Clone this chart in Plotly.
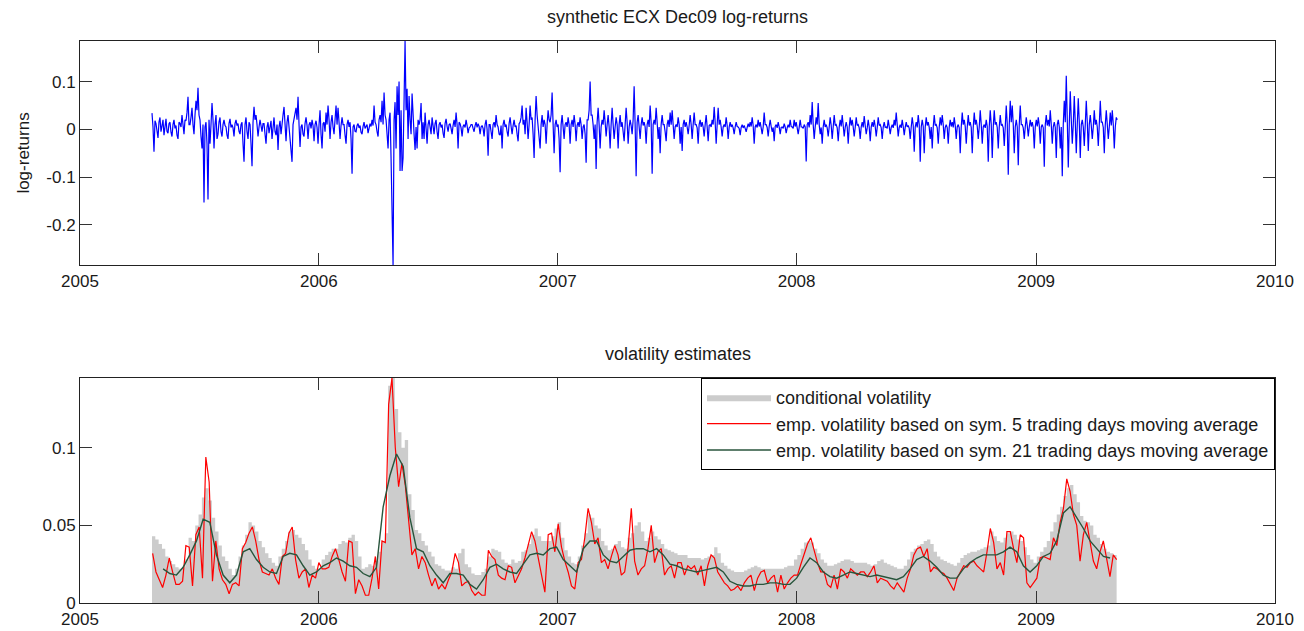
import pandas as pd
import plotly.graph_objects as go

# ---------------- data ----------------
RET_START, RET_END = "2005-04-21", "2009-05-05"
VOL_START, VOL_END = "2005-04-22", "2009-05-04"
MA21_START, MA21_END = "2005-05-08", "2009-04-24"

log_returns = [
    0.034, 0.005, -0.047, 0.018, 0.012, -0.010, -0.018, 0.015, 0.025, -0.005, 0.005, 0.020, -0.012, 0.008, 0.022, -0.004, -0.008, 0.012, 0.015, -0.006,
    -0.015, 0.010, 0.020, 0.002, 0.008, -0.012, -0.020, 0.015, 0.012, 0.005, 0.030, 0.010, -0.010, 0.020, 0.018, 0.035, 0.068, 0.010, 0.010, 0.025,
    0.045, 0.010, -0.010, 0.030, 0.060, 0.040, 0.087, 0.030, 0.020, -0.015, -0.040, 0.010, -0.153, 0.005, 0.015, -0.030, -0.147, 0.020, -0.030, 0.010,
    0.055, 0.020, -0.040, 0.010, 0.030, -0.020, -0.010, 0.015, 0.025, -0.005, -0.015, 0.010, 0.020, 0.008, 0.005, -0.012, -0.020, 0.012, 0.022, 0.004,
    0.010, 0.003, -0.015, 0.012, 0.020, 0.008, 0.012, -0.004, -0.010, 0.010, 0.015, -0.030, -0.068, 0.010, 0.025, -0.005, -0.020, 0.015, 0.010, -0.030,
    -0.077, 0.015, 0.047, 0.020, 0.030, 0.010, -0.015, 0.005, 0.020, 0.008, -0.005, 0.012, 0.012, -0.010, -0.030, 0.005, 0.015, -0.008, 0.008, 0.018,
    -0.020, 0.008, 0.025, -0.005, -0.012, 0.010, -0.043, 0.005, 0.018, -0.010, 0.020, 0.030, 0.047, 0.010, -0.025, 0.015, 0.030, 0.005, -0.015, -0.040,
    -0.068, 0.010, 0.020, 0.030, 0.045, 0.020, 0.068, 0.010, -0.037, 0.005, 0.010, -0.010, -0.015, 0.012, 0.025, 0.008, -0.020, 0.010, 0.015, 0.002,
    0.020, 0.008, -0.025, 0.010, 0.018, 0.004, -0.030, 0.010, 0.040, -0.010, -0.040, 0.012, 0.015, -0.005, 0.035, 0.010, 0.050, 0.020, -0.020, 0.015,
    0.030, 0.005, -0.010, 0.020, 0.050, 0.010, 0.045, 0.015, -0.020, 0.008, 0.025, 0.010, 0.010, -0.012, -0.030, 0.010, 0.020, 0.005, 0.015, -0.020,
    -0.093, 0.005, 0.010, -0.004, -0.005, 0.008, 0.012, 0.003, 0.008, -0.006, -0.010, 0.006, 0.015, 0.002, 0.005, 0.010, -0.008, 0.004, 0.012, 0.006,
    0.020, 0.008, 0.050, 0.015, 0.010, -0.005, -0.015, 0.020, 0.030, 0.015, 0.060, 0.010, 0.077, 0.030, 0.020, -0.010, -0.040, 0.020, 0.035, -0.060,
    -0.164, -0.284, 0.020, 0.057, -0.040, 0.090, 0.030, 0.100, -0.087, 0.040, -0.087, -0.060, 0.060, 0.185, 0.040, 0.085, -0.020, 0.070, 0.020, -0.010,
    0.075, 0.010, -0.010, -0.043, 0.005, -0.040, 0.020, 0.010, 0.020, 0.055, -0.020, 0.015, -0.020, 0.035, 0.010, -0.030, 0.010, 0.020, 0.005, -0.010,
    0.025, 0.005, -0.010, 0.012, 0.020, -0.005, -0.020, 0.010, 0.015, 0.004, 0.010, -0.008, -0.018, 0.012, 0.022, 0.006, -0.005, 0.010, 0.012, 0.002,
    -0.010, 0.008, 0.020, 0.005, 0.035, 0.010, -0.040, 0.015, 0.012, 0.003, -0.015, 0.006, 0.010, 0.004, 0.020, 0.008, -0.008, 0.003, 0.005, 0.010,
    0.010, 0.002, -0.005, 0.008, 0.015, 0.004, 0.012, 0.006, -0.010, 0.005, 0.008, 0.002, -0.015, 0.010, 0.020, 0.000, -0.055, 0.010, 0.010, -0.005,
    -0.020, 0.010, 0.015, 0.004, 0.030, 0.010, 0.005, -0.010, -0.012, 0.008, -0.040, 0.010, 0.020, 0.005, 0.010, -0.005, -0.015, 0.012, 0.025, 0.006,
    -0.010, 0.008, 0.020, 0.005, 0.008, -0.010, -0.025, 0.012, 0.015, 0.025, 0.050, 0.010, 0.020, -0.010, 0.045, 0.015, -0.020, 0.010, 0.050, 0.020,
    0.025, -0.010, -0.060, 0.020, 0.070, 0.030, 0.010, -0.015, -0.040, 0.010, 0.030, 0.005, 0.020, 0.010, -0.030, 0.010, 0.040, 0.020, 0.015, 0.030,
    0.077, 0.010, -0.050, 0.010, 0.020, 0.005, 0.010, -0.020, -0.090, 0.010, 0.030, 0.005, -0.020, 0.010, 0.015, 0.005, 0.025, 0.010, -0.030, 0.010,
    0.020, 0.005, 0.030, 0.010, -0.025, 0.008, 0.015, 0.005, 0.025, 0.010, -0.020, 0.005, 0.010, -0.010, -0.070, 0.020, 0.020, 0.040, 0.100, 0.030,
    0.030, 0.010, -0.020, 0.010, -0.083, 0.015, 0.045, 0.010, -0.040, 0.005, 0.020, 0.010, 0.040, 0.015, -0.015, 0.010, 0.030, 0.005, -0.040, 0.010,
    0.045, 0.010, -0.020, 0.005, 0.025, 0.010, -0.040, 0.010, 0.030, 0.005, 0.015, -0.005, -0.025, 0.010, 0.045, 0.015, -0.030, 0.005, 0.020, 0.008,
    -0.010, 0.020, 0.090, 0.010, -0.098, 0.015, 0.030, 0.005, -0.020, 0.010, 0.025, 0.008, 0.015, 0.005, -0.030, 0.010, 0.020, 0.005, 0.050, 0.015,
    -0.093, 0.010, 0.020, 0.010, 0.045, 0.015, -0.020, 0.005, -0.050, 0.010, 0.030, 0.010, 0.010, -0.005, -0.025, 0.010, 0.020, 0.005, 0.035, 0.010,
    0.040, 0.010, -0.020, 0.005, 0.010, 0.005, 0.025, 0.010, -0.030, 0.005, -0.045, 0.010, 0.020, 0.005, 0.015, 0.005, -0.010, 0.008, 0.030, 0.010,
    -0.020, 0.010, 0.035, 0.010, 0.010, 0.003, -0.030, 0.010, 0.020, 0.005, 0.015, 0.005, -0.015, 0.010, 0.030, 0.005, -0.025, 0.008, 0.010, 0.005,
    0.020, 0.010, 0.047, 0.015, -0.030, 0.010, 0.045, 0.010, 0.020, 0.005, -0.015, 0.005, 0.010, 0.005, 0.025, 0.008, -0.020, 0.005, 0.015, 0.005,
    0.010, 0.003, -0.010, 0.005, 0.015, 0.006, 0.005, 0.002, -0.012, 0.004, 0.010, 0.003, 0.008, 0.002, -0.005, 0.004, 0.012, 0.005, 0.015, 0.006,
    0.025, 0.008, -0.030, 0.005, 0.010, 0.004, 0.020, 0.006, 0.015, 0.003, -0.010, 0.005, 0.035, 0.010, 0.010, 0.004, -0.015, 0.006, 0.020, 0.006,
    -0.005, 0.004, -0.025, 0.006, 0.010, 0.003, 0.015, 0.005, -0.010, 0.004, 0.005, 0.002, 0.012, 0.005, -0.008, 0.003, 0.010, 0.004, 0.020, 0.006,
    0.005, 0.002, 0.020, 0.006, 0.015, 0.003, -0.010, 0.004, 0.020, 0.005, 0.005, 0.002, 0.010, 0.005, -0.067, 0.010, 0.015, 0.004, 0.030, 0.010,
    0.057, 0.010, -0.020, 0.005, 0.025, 0.010, 0.055, 0.010, -0.010, 0.004, -0.030, 0.005, 0.020, 0.005, 0.010, 0.003, -0.015, 0.005, 0.025, 0.008,
    -0.020, 0.005, 0.030, 0.008, 0.010, 0.003, -0.025, 0.005, 0.020, 0.006, 0.030, 0.008, -0.015, 0.004, 0.015, 0.005, -0.030, 0.005, 0.025, 0.008,
    0.020, 0.005, -0.015, 0.004, 0.025, 0.008, 0.010, 0.003, -0.020, 0.005, 0.015, 0.004, 0.028, 0.008, -0.010, 0.003, 0.020, 0.005, -0.025, 0.005,
    0.015, 0.005, 0.020, 0.006, -0.015, 0.004, 0.025, 0.008, 0.010, 0.003, -0.020, 0.005, 0.015, 0.004, 0.005, 0.002, 0.020, 0.006, -0.010, 0.004,
    0.010, 0.003, 0.020, 0.008, 0.035, 0.010, -0.015, 0.004, 0.010, 0.003, 0.020, 0.006, -0.012, 0.004, 0.015, 0.005, 0.008, 0.002, -0.020, 0.005,
    0.025, 0.008, -0.047, 0.005, 0.015, 0.004, 0.030, 0.010, -0.068, 0.005, 0.020, 0.006, -0.050, 0.005, 0.025, 0.008, 0.015, 0.004, -0.020, 0.005,
    -0.040, 0.005, 0.030, 0.008, 0.010, 0.003, -0.030, 0.005, 0.025, 0.008, 0.030, 0.010, -0.020, 0.004, 0.010, 0.003, -0.030, 0.005, 0.020, 0.006,
    0.015, 0.004, 0.025, 0.008, -0.020, 0.005, 0.010, 0.003, -0.050, 0.005, 0.035, 0.010, 0.020, 0.006, -0.030, 0.005, 0.030, 0.008, 0.015, 0.004,
    -0.050, 0.005, 0.035, 0.010, 0.020, 0.006, -0.020, 0.005, 0.040, 0.010, -0.030, 0.005, 0.010, 0.003, 0.020, 0.006, -0.068, 0.005, 0.040, 0.010,
    -0.060, 0.005, 0.040, 0.010, 0.015, 0.004, -0.040, 0.005, 0.030, 0.008, 0.010, 0.003, -0.035, 0.005, 0.050, 0.010, -0.095, 0.010, 0.060, 0.015,
    0.050, 0.010, -0.050, 0.005, 0.020, 0.005, -0.075, 0.010, 0.050, 0.010, 0.010, 0.003, -0.020, 0.005, 0.025, 0.008, -0.015, 0.005, 0.020, 0.006,
    0.015, 0.004, -0.040, 0.005, 0.020, 0.006, 0.025, 0.008, -0.030, 0.005, 0.010, 0.003, -0.078, 0.010, 0.030, 0.008, 0.020, 0.006, 0.040, 0.010,
    -0.030, 0.005, 0.015, 0.004, -0.060, 0.010, 0.020, 0.005, -0.040, 0.005, -0.098, 0.010, 0.060, 0.015, 0.112, 0.020, -0.080, 0.010, 0.080, 0.020,
    -0.030, 0.010, 0.070, 0.015, -0.050, 0.010, 0.065, 0.015, -0.060, 0.010, 0.020, 0.005, -0.035, 0.010, 0.060, 0.015, -0.045, 0.010, 0.030, 0.008,
    -0.020, 0.005, 0.040, 0.010, 0.020, 0.005, -0.035, 0.010, 0.060, 0.015, 0.015, 0.004, -0.050, 0.010, 0.040, 0.010, -0.020, 0.005, 0.035, 0.008,
    0.040, 0.010, -0.040, 0.005, 0.025, 0.020,
]

conditional_volatility = [
    0.043, 0.041, 0.038, 0.035, 0.030, 0.027, 0.025, 0.023, 0.022, 0.023,
    0.028, 0.042, 0.040, 0.050, 0.057, 0.068, 0.074, 0.066, 0.055, 0.046,
    0.037, 0.030, 0.027, 0.022, 0.018, 0.022, 0.030, 0.037, 0.044, 0.052,
    0.050, 0.046, 0.040, 0.036, 0.032, 0.029, 0.026, 0.024, 0.030, 0.035,
    0.040, 0.046, 0.047, 0.044, 0.042, 0.038, 0.034, 0.028, 0.024, 0.022,
    0.022, 0.028, 0.031, 0.033, 0.035, 0.035, 0.038, 0.040, 0.039, 0.042,
    0.044, 0.040, 0.030, 0.022, 0.023, 0.025, 0.024, 0.027, 0.033, 0.040,
    0.045,
    0.140, 0.145, 0.125, 0.110, 0.100, 0.105, 0.070, 0.060, 0.047, 0.045,
    0.040, 0.037, 0.033, 0.030, 0.025, 0.024, 0.022, 0.021, 0.021, 0.023,
    0.022, 0.032, 0.035, 0.025, 0.023, 0.019, 0.018, 0.018, 0.020, 0.022,
    0.030, 0.035, 0.034, 0.033, 0.028, 0.026, 0.025, 0.028, 0.026, 0.027,
    0.033, 0.034, 0.038, 0.044, 0.048, 0.043, 0.040, 0.040, 0.040, 0.043,
    0.048, 0.052, 0.042, 0.034, 0.030, 0.026, 0.025, 0.030, 0.037, 0.045,
    0.057, 0.055, 0.050, 0.048, 0.040, 0.037, 0.034, 0.035, 0.038, 0.040,
    0.036, 0.035,
    0.042, 0.045, 0.050, 0.052, 0.046, 0.040, 0.042, 0.046, 0.043, 0.041,
    0.038, 0.035, 0.034, 0.033, 0.032, 0.031, 0.031, 0.031, 0.029, 0.029,
    0.029, 0.029, 0.028, 0.029, 0.030, 0.031, 0.036, 0.032, 0.026, 0.024,
    0.022, 0.021, 0.020, 0.020, 0.020, 0.021, 0.022, 0.023, 0.024, 0.023,
    0.022, 0.022, 0.022, 0.022, 0.022, 0.022, 0.022, 0.023, 0.024, 0.024,
    0.028, 0.031, 0.035, 0.039, 0.040, 0.039, 0.035, 0.032, 0.028, 0.026,
    0.024, 0.024, 0.025, 0.026, 0.027, 0.028, 0.028, 0.027, 0.026, 0.026,
    0.026, 0.026,
    0.025, 0.024, 0.025, 0.027, 0.028, 0.026, 0.025, 0.024, 0.023, 0.022,
    0.022, 0.024, 0.028, 0.033, 0.035, 0.037, 0.038, 0.040, 0.041, 0.038,
    0.033, 0.030, 0.028, 0.027, 0.026, 0.025, 0.024, 0.026, 0.029, 0.031,
    0.032, 0.033, 0.033, 0.034, 0.035, 0.036, 0.037, 0.046, 0.043, 0.040,
    0.039, 0.042, 0.045, 0.046, 0.044, 0.041, 0.040, 0.036, 0.031, 0.028,
    0.026, 0.030, 0.033, 0.036, 0.040, 0.046, 0.052, 0.057, 0.062, 0.069,
    0.074, 0.076, 0.070, 0.065, 0.056, 0.053, 0.052, 0.050, 0.044, 0.042,
    0.038, 0.035, 0.033, 0.032, 0.031, 0.033,
]

emp_vol_5d = [
    0.032, 0.020, 0.015, 0.010, 0.018, 0.029, 0.020, 0.012, 0.012, 0.014,
    0.037, 0.036, 0.011, 0.044, 0.049, 0.016, 0.094, 0.078, 0.014, 0.040,
    0.022, 0.015, 0.012, 0.006, 0.012, 0.013, 0.011, 0.035, 0.039, 0.045,
    0.049, 0.040, 0.028, 0.020, 0.019, 0.018, 0.022, 0.016, 0.012, 0.030,
    0.032, 0.045, 0.049, 0.028, 0.016, 0.020, 0.022, 0.010, 0.018, 0.016,
    0.026, 0.022, 0.022, 0.023, 0.030, 0.035, 0.028, 0.020, 0.014, 0.040,
    0.039, 0.006, 0.015, 0.011, 0.005, 0.005, 0.016, 0.030, 0.009, 0.040,
    0.039,
    0.128, 0.145, 0.100, 0.075, 0.090, 0.076, 0.055, 0.031, 0.035, 0.022,
    0.030, 0.026, 0.018, 0.011, 0.016, 0.009, 0.012, 0.009, 0.015, 0.020,
    0.032, 0.026, 0.011, 0.013, 0.014, 0.008, 0.005, 0.007, 0.005, 0.005,
    0.034, 0.030, 0.028, 0.018, 0.016, 0.015, 0.024, 0.023, 0.013, 0.018,
    0.022, 0.029, 0.038, 0.046, 0.040, 0.030, 0.018, 0.007, 0.044, 0.045,
    0.033, 0.051, 0.036, 0.027, 0.020, 0.011, 0.009, 0.026, 0.028, 0.042,
    0.061, 0.052, 0.038, 0.042, 0.026, 0.028, 0.022, 0.030, 0.037, 0.031,
    0.018, 0.020,
    0.035, 0.061, 0.027, 0.018, 0.022, 0.024, 0.035, 0.050, 0.026, 0.033,
    0.035, 0.018, 0.022, 0.024, 0.016, 0.026, 0.026, 0.018, 0.024, 0.022,
    0.024, 0.018, 0.024, 0.011, 0.024, 0.031, 0.029, 0.020, 0.016, 0.013,
    0.011, 0.008, 0.009, 0.011, 0.008, 0.013, 0.016, 0.018, 0.008, 0.016,
    0.020, 0.021, 0.013, 0.016, 0.018, 0.007, 0.018, 0.009, 0.013, 0.016,
    0.018, 0.018, 0.025, 0.032, 0.038, 0.042, 0.033, 0.026, 0.020, 0.020,
    0.012, 0.010, 0.018, 0.009, 0.022, 0.020, 0.016, 0.022, 0.020, 0.018,
    0.020, 0.020,
    0.017, 0.020, 0.024, 0.013, 0.016, 0.015, 0.014, 0.011, 0.009, 0.013,
    0.010, 0.007, 0.016, 0.022, 0.031, 0.035, 0.036, 0.030, 0.035, 0.020,
    0.023, 0.022, 0.020, 0.019, 0.016, 0.012, 0.008, 0.016, 0.020, 0.024,
    0.023, 0.026, 0.027, 0.024, 0.022, 0.020, 0.033, 0.048, 0.039, 0.022,
    0.026, 0.018, 0.046, 0.046, 0.035, 0.026, 0.044, 0.042, 0.013, 0.010,
    0.013, 0.016, 0.029, 0.030, 0.029, 0.028, 0.042, 0.037, 0.052, 0.061,
    0.080, 0.072, 0.057, 0.050, 0.027, 0.044, 0.052, 0.040, 0.027, 0.022,
    0.033, 0.040, 0.029, 0.017, 0.031, 0.028,
]

emp_vol_21d = [
    0.022, 0.019, 0.018, 0.023, 0.031, 0.040, 0.054, 0.052, 0.031, 0.018,
    0.013, 0.018, 0.033, 0.035, 0.028, 0.023, 0.020, 0.019, 0.030, 0.032,
    0.031, 0.024, 0.018, 0.020, 0.024, 0.026, 0.029, 0.027, 0.024, 0.023,
    0.019, 0.017, 0.023, 0.062,
    0.082, 0.096, 0.088, 0.055, 0.035, 0.033, 0.024, 0.018, 0.013, 0.019,
    0.019, 0.018, 0.012, 0.009, 0.015, 0.023, 0.025, 0.022, 0.020, 0.019,
    0.025, 0.031, 0.032, 0.031, 0.035, 0.036, 0.028, 0.024, 0.020, 0.035,
    0.040, 0.040, 0.031, 0.027, 0.026, 0.030,
    0.034, 0.035, 0.035, 0.033, 0.035, 0.031, 0.025, 0.024, 0.022, 0.021,
    0.020, 0.021, 0.022, 0.023, 0.020, 0.014, 0.012, 0.011, 0.011, 0.012,
    0.012, 0.013, 0.013, 0.012, 0.012, 0.016, 0.023, 0.029, 0.026, 0.020,
    0.017, 0.016, 0.018, 0.020, 0.019, 0.018,
    0.017, 0.018, 0.017, 0.016, 0.015, 0.017, 0.022, 0.028, 0.030, 0.027,
    0.023, 0.018, 0.016, 0.016, 0.022, 0.026, 0.029, 0.031, 0.031, 0.031,
    0.033, 0.036, 0.033, 0.024, 0.020, 0.024, 0.030, 0.032, 0.040, 0.058,
    0.062, 0.055, 0.048, 0.040, 0.035, 0.030, 0.029,
]

x_tick_years = ["2005", "2006", "2007", "2008", "2009", "2010"]
ret_tick_vals = [-0.2, -0.1, 0.0, 0.1]
ret_tick_text = ["-0.2", "-0.1", "0", "0.1"]
vol_tick_vals = [0.0, 0.05, 0.1]
vol_tick_text = ["0", "0.05", "0.1"]

# ---------------- figure ----------------
ret_dates = pd.date_range(RET_START, RET_END, periods=len(log_returns))
cv_dates = pd.date_range(RET_START, VOL_END, periods=len(conditional_volatility))
v5_dates = pd.date_range(VOL_START, VOL_END, periods=len(emp_vol_5d))
v21_dates = pd.date_range(MA21_START, MA21_END, periods=len(emp_vol_21d))

FONT = "Liberation Sans, Arial, sans-serif"
TXT = "#1a1a1a"

fig = go.Figure()
fig.add_trace(go.Scatter(x=ret_dates, y=log_returns, mode="lines",
                         line=dict(color="rgb(0,0,255)", width=1.2),
                         showlegend=False, xaxis="x", yaxis="y"))
fig.add_trace(go.Scatter(x=cv_dates, y=conditional_volatility, mode="lines",
                         fill="tozeroy", fillcolor="rgb(204,204,204)",
                         line=dict(color="rgb(204,204,204)", width=0, shape="hv"),
                         name="conditional volatility", xaxis="x2", yaxis="y2"))
fig.add_trace(go.Scatter(x=v5_dates, y=emp_vol_5d, mode="lines",
                         line=dict(color="rgb(255,0,0)", width=1.2),
                         name="emp. volatility based on sym. 5 trading days moving average",
                         xaxis="x2", yaxis="y2"))
fig.add_trace(go.Scatter(x=v21_dates, y=emp_vol_21d, mode="lines",
                         line=dict(color="rgb(40,85,60)", width=1.4),
                         name="emp. volatility based on sym. 21 trading days moving average",
                         xaxis="x2", yaxis="y2"))

xtickvals = [f"{y}-01-01" for y in x_tick_years]
xcommon = dict(type="date", range=[xtickvals[0], xtickvals[-1]],
               tickvals=xtickvals, ticktext=x_tick_years,
               ticks="inside", ticklen=12, tickcolor="#333", tickwidth=1,
               showline=True, linecolor="#222", linewidth=1, mirror="ticks",
               showgrid=False, zeroline=False, ticklabelstandoff=1,
               automargin=False,
               tickfont=dict(family=FONT, size=17, color=TXT))
ycommon = dict(ticks="inside", ticklen=12, tickcolor="#333", tickwidth=1,
               showline=True, linecolor="#222", linewidth=1, mirror="ticks",
               showgrid=False, zeroline=False, automargin=False,
               tickfont=dict(family=FONT, size=17, color=TXT))

fig.update_layout(
    width=1304, height=631,
    margin=dict(l=80, r=29, t=41, b=28),
    paper_bgcolor="white", plot_bgcolor="white",
    font=dict(family=FONT, size=17, color=TXT),
    xaxis=dict(domain=[0, 1], anchor="y", **xcommon),
    yaxis=dict(domain=[0.6014, 1], anchor="x",
               range=[min(log_returns), max(log_returns)],
               tickvals=ret_tick_vals, ticktext=ret_tick_text,
               title=dict(text="log-returns", font=dict(family=FONT, size=17, color=TXT), standoff=12),
               **ycommon),
    xaxis2=dict(domain=[0, 1], anchor="y2", **xcommon),
    yaxis2=dict(domain=[0, 0.4004], anchor="x2",
                range=[0, max(max(conditional_volatility), max(emp_vol_5d))],
                tickvals=vol_tick_vals, ticktext=vol_tick_text, **ycommon),
    legend=dict(x=1, y=0.4004, xanchor="right", yanchor="top",
                bgcolor="white", bordercolor="black", borderwidth=1,
                font=dict(family=FONT, size=18, color=TXT),
                itemwidth=64, tracegroupgap=0),
    annotations=[
        dict(text="synthetic ECX Dec09 log-returns", xref="paper", yref="paper",
             x=0.5, y=1, xanchor="center", yanchor="bottom", yshift=12,
             showarrow=False, font=dict(family=FONT, size=18, color=TXT)),
        dict(text="volatility estimates", xref="paper", yref="paper",
             x=0.5, y=0.4004, xanchor="center", yanchor="bottom", yshift=12,
             showarrow=False, font=dict(family=FONT, size=18, color=TXT)),
    ],
)

fig.write_html("out.html")
